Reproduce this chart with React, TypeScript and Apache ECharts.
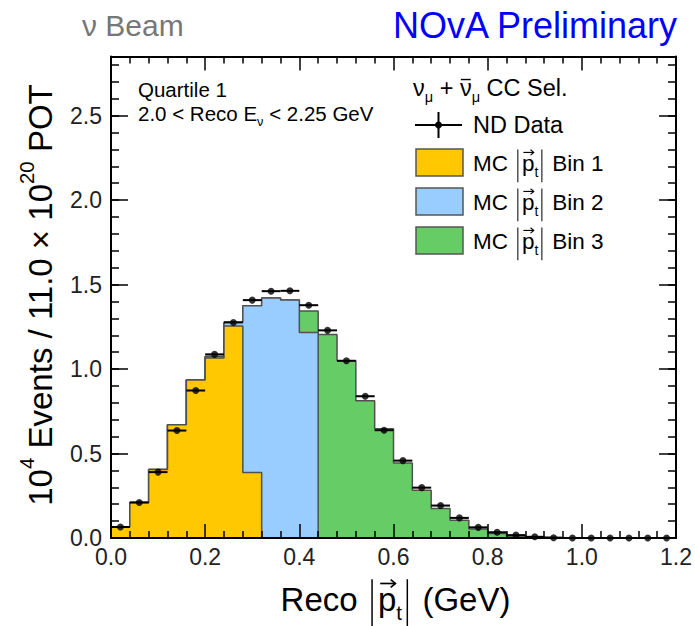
import React, { useEffect, useRef } from 'react';
import * as echarts from 'echarts';

// ---- data ----
const binEdges = [0.0, 0.04, 0.08, 0.12, 0.16, 0.2, 0.24, 0.28, 0.32, 0.36, 0.4, 0.44, 0.48, 0.52, 0.56, 0.6, 0.64, 0.68, 0.72, 0.76, 0.8, 0.84, 0.88, 0.92, 0.96, 1.0, 1.04, 1.08, 1.12, 1.16, 1.2];

const mcPtBin1 = [0.065, 0.21, 0.405, 0.67, 0.935, 1.065, 1.255, 0.387, 0, 0, 0, 0, 0, 0, 0, 0, 0, 0, 0, 0, 0, 0, 0, 0, 0, 0, 0, 0, 0, 0];
const mcPtBin2 = [0, 0, 0, 0, 0, 0.01, 0.022, 0.987, 1.42, 1.408, 1.217, 0, 0, 0, 0, 0, 0, 0, 0, 0, 0, 0, 0, 0, 0, 0, 0, 0, 0, 0];
const mcPtBin3 = [0, 0, 0, 0, 0, 0, 0, 0, 0, 0, 0.126, 1.205, 1.049, 0.812, 0.646, 0.444, 0.283, 0.174, 0.105, 0.054, 0.026, 0.012, 0.005, 0.002, 0.001, 0, 0, 0, 0, 0];
const ndData = [0.065, 0.21, 0.39, 0.636, 0.873, 1.087, 1.276, 1.408, 1.461, 1.463, 1.378, 1.229, 1.049, 0.839, 0.638, 0.458, 0.298, 0.192, 0.119, 0.063, 0.034, 0.017, 0.007, 0.002, 0, 0, 0, 0, 0, 0];

const xMin = 0;
const xMax = 1.2;
const xMajor = 0.2;
const yMin = 0;
const yMax = 2.85;
const yMajor = 0.5;
const yMinor = 0.1;

const COLORS = { bin1: '#ffc800', bin2: '#99ccff', bin3: '#66cc66', outline: '#505050' };
const FONT = '"Liberation Sans", Arial, Helvetica, sans-serif';

// ---- text helpers ----
let measureCtx: CanvasRenderingContext2D | null = null;
function textWidth(t: string, size: number): number {
  if (!measureCtx) measureCtx = document.createElement('canvas').getContext('2d');
  if (!measureCtx) return t.length * size * 0.55;
  measureCtx.font = `${size}px ${FONT}`;
  return measureCtx.measureText(t).width;
}

type Piece = [string, string?];

function richRow(pieces: Piece[], x0: number, yc: number, size: number, color: string) {
  const els: any[] = [];
  let x = x0;
  const txt = (t: string, px: number, py: number, s: number) => ({
    type: 'text',
    x: px,
    y: py,
    silent: true,
    style: { text: t, font: `${s}px ${FONT}`, fill: color, textAlign: 'left', textVerticalAlign: 'middle', verticalAlign: 'middle' },
  });
  for (const [t, k] of pieces) {
    if (k === 'sub' || k === 'sup') {
      const s = size * 0.62;
      els.push(txt(t, x, yc + (k === 'sub' ? size * 0.4 : -size * 0.42), s));
      x += textWidth(t, s);
    } else if (k === 'bar') {
      x += size * 0.16;
      els.push({ type: 'line', silent: true, shape: { x1: x, y1: yc - size * 0.6, x2: x, y2: yc + size * 0.85 }, style: { stroke: color, lineWidth: Math.max(1, size * 0.045) } });
      x += size * 0.18;
    } else if (k === 'vec') {
      const w = textWidth(t, size);
      els.push(txt(t, x, yc, size));
      const ay = yc - size * 0.47;
      const ax0 = x + w * 0.12;
      const ax1 = x + w * 0.95;
      const h = size * 0.12;
      els.push({ type: 'line', silent: true, shape: { x1: ax0, y1: ay, x2: ax1, y2: ay }, style: { stroke: color, lineWidth: Math.max(1, size * 0.05) } });
      els.push({ type: 'polyline', silent: true, shape: { points: [[ax1 - h * 1.2, ay - h], [ax1, ay], [ax1 - h * 1.2, ay + h]] }, style: { stroke: color, fill: 'none', lineWidth: Math.max(1, size * 0.05) } });
      x += w;
    } else if (k === 'over') {
      const w = textWidth(t, size);
      els.push(txt(t, x, yc, size));
      const by = yc - size * 0.36;
      els.push({ type: 'line', silent: true, shape: { x1: x + w * 0.08, y1: by, x2: x + w * 0.92, y2: by }, style: { stroke: color, lineWidth: Math.max(1, size * 0.06) } });
      x += w;
    } else {
      els.push(txt(t, x, yc, size));
      x += textWidth(t, size);
    }
  }
  return { els, width: x - x0 };
}

function ptPieces(pre: string, post: string): Piece[] {
  return [[pre], ['', 'bar'], ['p', 'vec'], ['t', 'sub'], ['', 'bar'], [post]];
}

function stepPoints(vals: number[]) {
  const pts: number[][] = [[binEdges[0], 0]];
  vals.forEach((v, i) => {
    pts.push([binEdges[i], v]);
    pts.push([binEdges[i + 1], v]);
  });
  pts.push([binEdges[vals.length], 0]);
  return pts;
}

function buildOption() {
  const cum1 = mcPtBin1.slice();
  const cum2 = mcPtBin1.map((v, i) => v + mcPtBin2[i]);
  const cum3 = cum2.map((v, i) => v + mcPtBin3[i]);

  const graphics: any[] = [];
  // header texts
  graphics.push({ type: 'text', x: 82, y: 25, silent: true, style: { text: 'ν Beam', font: `30px ${FONT}`, fill: '#777777', textAlign: 'left', textVerticalAlign: 'middle', verticalAlign: 'middle' } });
  graphics.push({ type: 'text', x: 677, y: 25, silent: true, style: { text: 'NOvA Preliminary', font: `36px ${FONT}`, fill: '#0000ff', textAlign: 'right', textVerticalAlign: 'middle', verticalAlign: 'middle' } });

  // annotations
  graphics.push(...richRow([['Quartile 1']], 138, 89, 20.5, '#000').els);
  graphics.push(...richRow([['2.0 < Reco E'], ['ν', 'sub'], [' < 2.25 GeV']], 138, 113, 20.5, '#000').els);

  // legend header
  graphics.push(...richRow([['ν'], ['μ', 'sub'], [' + '], ['ν', 'over'], ['μ', 'sub'], [' CC Sel.']], 413, 88, 23.5, '#000').els);

  // ND data legend marker
  graphics.push({ type: 'line', silent: true, shape: { x1: 415, y1: 125, x2: 462, y2: 125 }, style: { stroke: '#000', lineWidth: 2 } });
  graphics.push({ type: 'line', silent: true, shape: { x1: 438.5, y1: 112, x2: 438.5, y2: 138 }, style: { stroke: '#000', lineWidth: 2 } });
  graphics.push({ type: 'circle', silent: true, shape: { cx: 438.5, cy: 125, r: 3.5 }, style: { fill: '#000' } });
  graphics.push(...richRow([['ND Data']], 473, 125, 23.5, '#000').els);

  const legendRows = [
    { c: COLORS.bin1, label: ' Bin 1', y: 149 },
    { c: COLORS.bin2, label: ' Bin 2', y: 188 },
    { c: COLORS.bin3, label: ' Bin 3', y: 227 },
  ];
  legendRows.forEach((r) => {
    graphics.push({ type: 'rect', silent: true, shape: { x: 416, y: r.y, width: 47, height: 27 }, style: { fill: r.c, stroke: '#555', lineWidth: 1.5 } });
    graphics.push(...richRow(ptPieces('MC ', r.label), 473, r.y + 14, 22.5, '#000').els);
  });

  // x axis title
  const xt = ptPieces('Reco ', ' (GeV)');
  const xw = richRow(xt, 0, 0, 33, '#000').width;
  graphics.push(...richRow(xt, 395.5 - xw / 2, 599, 33, '#000').els);

  // y axis title (rotated)
  const yt: Piece[] = [['10'], ['4', 'sup'], [' Events / 11.0 × 10'], ['20', 'sup'], [' POT']];
  const yr = richRow(yt, 0, 0, 33, '#000');
  graphics.push({ type: 'group', x: 40, y: 295 + yr.width / 2, rotation: Math.PI / 2, children: yr.els });

  const tickStyle = { color: '#000', width: 1.5 };
  const baseX = {
    type: 'value', min: xMin, max: xMax, interval: xMajor, z: 10,
    axisLine: { show: true, onZero: false, lineStyle: { color: '#000', width: 2 } },
    axisTick: { show: true, inside: true, length: 14, lineStyle: tickStyle },
    minorTick: { show: true, splitNumber: 5, length: 7, lineStyle: tickStyle },
    splitLine: { show: false },
    minorSplitLine: { show: false },
  };
  const labelStyle = { fontFamily: FONT, fontSize: 23, color: '#222' };

  const xAxis = [
    { ...baseX, position: 'bottom', axisLabel: { ...labelStyle, margin: 7, formatter: (v: number) => v.toFixed(1) } },
    { ...baseX, position: 'top', axisLabel: { show: false } },
  ];

  const mkY = (pos: string, interval: number, len: number, labels: boolean, line: boolean) => ({
    type: 'value', min: yMin, max: yMax, interval, position: pos, z: 10,
    axisLine: { show: line, onZero: false, lineStyle: { color: '#000', width: 2 } },
    axisTick: { show: true, inside: true, length: len, lineStyle: tickStyle },
    splitLine: { show: false },
    axisLabel: labels
      ? { ...labelStyle, margin: 9, formatter: (v: number) => (Math.abs(v / yMajor - Math.round(v / yMajor)) < 1e-6 ? v.toFixed(1) : '') }
      : { show: false },
  });
  const yAxis = [
    mkY('left', yMajor, 17, true, true),
    mkY('left', yMinor, 8, false, false),
    mkY('right', yMajor, 17, false, true),
    mkY('right', yMinor, 8, false, false),
  ];

  const areaSeries = (name: string, vals: number[], color: string, z: number) => ({
    type: 'line', name, xAxisIndex: 0, yAxisIndex: 0, z,
    data: stepPoints(vals),
    symbol: 'none', showSymbol: false, smooth: false,
    lineStyle: { color: COLORS.outline, width: 1.5 },
    areaStyle: { color, opacity: 1 },
    emphasis: { disabled: true },
  });

  const series: any[] = [
    areaSeries('MC |pt| Bin 3', cum3, COLORS.bin3, 2),
    areaSeries('MC |pt| Bin 2', cum2, COLORS.bin2, 3),
    areaSeries('MC |pt| Bin 1', cum1, COLORS.bin1, 4),
    {
      type: 'custom', name: 'ND Data errors', xAxisIndex: 0, yAxisIndex: 0, z: 19,
      data: ndData.map((v, i) => [binEdges[i], binEdges[i + 1], v]),
      encode: { x: [0, 1], y: 2 },
      renderItem: (_p: any, api: any) => {
        const a = api.coord([api.value(0), api.value(2)]);
        const b = api.coord([api.value(1), api.value(2)]);
        return { type: 'line', shape: { x1: a[0], y1: a[1], x2: b[0], y2: b[1] }, style: { stroke: '#000', lineWidth: 2 } };
      },
    },
    {
      type: 'scatter', name: 'ND Data', xAxisIndex: 0, yAxisIndex: 0, z: 20,
      data: ndData.map((v, i) => [(binEdges[i] + binEdges[i + 1]) / 2, v]),
      symbol: 'circle', symbolSize: 7,
      itemStyle: { color: '#000' },
    },
  ];

  return {
    animation: false,
    backgroundColor: '#ffffff',
    grid: { left: 111, right: 16, top: 56.5, bottom: 88, containLabel: false },
    xAxis,
    yAxis,
    series,
    graphic: { elements: graphics },
  };
}

export default function App() {
  const ref = useRef<HTMLDivElement>(null);
  useEffect(() => {
    if (!ref.current) return;
    const chart = echarts.init(ref.current, undefined, { renderer: 'svg' });
    chart.setOption(buildOption() as any);
    return () => chart.dispose();
  }, []);
  return <div ref={ref} style={{ position: 'fixed', left: 0, top: 0, width: 695, height: 626, background: '#fff' }} />;
}
